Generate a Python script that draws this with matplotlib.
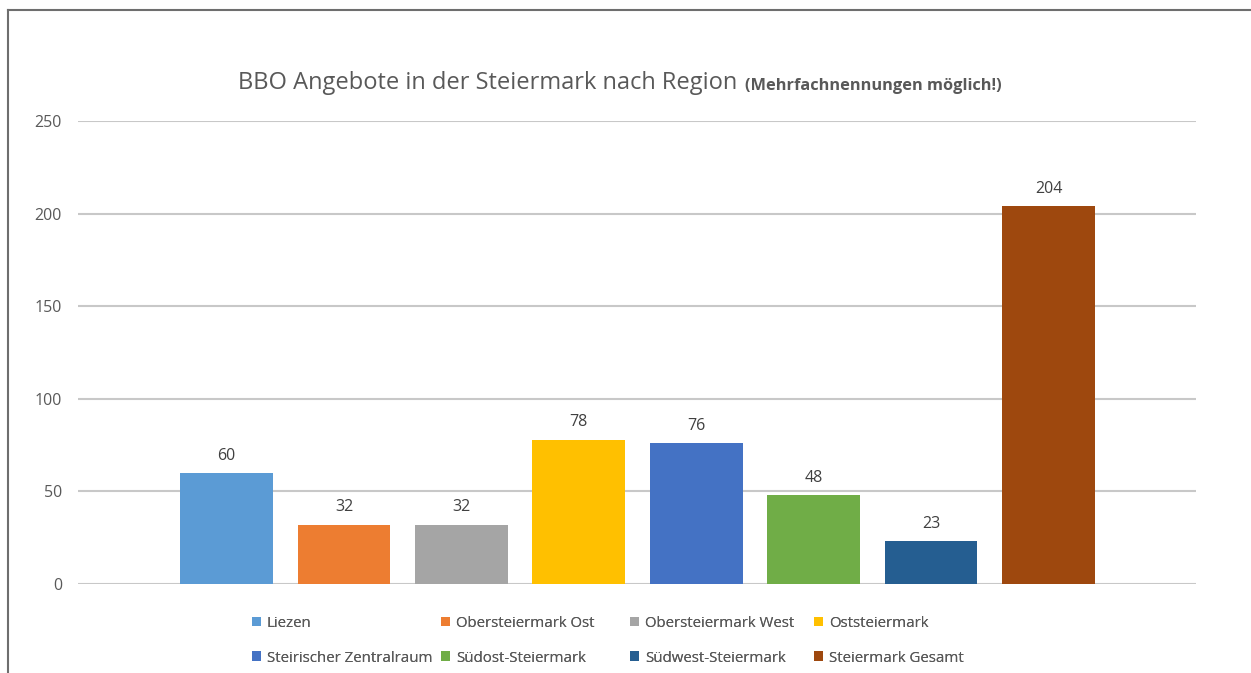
import matplotlib.pyplot as plt
from matplotlib.lines import Line2D

regions = ["Liezen", "Obersteiermark Ost", "Obersteiermark West", "Oststeiermark",
           "Steirischer Zentralraum", "Südost-Steiermark", "Südwest-Steiermark",
           "Steiermark Gesamt"]
angebote = [60, 32, 32, 78, 76, 48, 23, 204]
colors = ["#5B9BD5", "#ED7D31", "#A5A5A5", "#FFC000",
          "#4472C4", "#70AD47", "#255E91", "#9E480E"]
y_ticks = [0, 50, 100, 150, 200, 250]

plt.rcParams['font.family'] = ['Open Sans', 'DejaVu Sans']

W, H = 1251, 673
fig = plt.figure(figsize=(W / 100, H / 100), dpi=100)
ax = fig.add_axes([78 / W, 1 - 584 / H, (1196 - 78) / W, (584 - 121) / H])

bars = []
for i, (name, val, col) in enumerate(zip(regions, angebote, colors)):
    b = ax.bar(i, val, width=0.79, color=col, label=name, zorder=3)
    bars.append(b)
    ax.text(i, val + 5, str(val), ha='center', va='bottom',
            fontsize=11.5, color='#404040')

ax.set_xlim(-1.265, 8.256)
ax.set_ylim(0, 250)
ax.set_yticks(y_ticks)
ax.set_xticks([])
ax.tick_params(axis='y', length=0, pad=11.5, labelsize=11.5, labelcolor='#595959')
ax.grid(axis='y', color='#C8C8C8', linewidth=1.5, zorder=0)
for s in ax.spines.values():
    s.set_visible(False)

# legend: 2 rows x 4 columns, one small legend per column
col_x = [252, 441, 630, 814]
for c, x0 in enumerate(col_x):
    idx = [c, c + 4]
    leg = fig.legend([bars[i] for i in idx], [regions[i] for i in idx],
                     loc='upper left', bbox_to_anchor=(x0 / W, 1 - 616 / H),
                     frameon=False, fontsize=10.8, handlelength=0.6, handleheight=0.6,
                     handletextpad=0.4, labelspacing=1.3, borderpad=0,
                     borderaxespad=0, labelcolor='#595959')
    fig.add_artist(leg)

fig.text(238 / W, 1 - 83 / H, "BBO Angebote in der Steiermark nach Region",
         ha='left', va='center', fontsize=17, color='#595959')
fig.text(745 / W, 1 - 86 / H, "(Mehrfachnennungen möglich!)",
         ha='left', va='center', fontsize=11.8, fontweight='bold', color='#595959')

# outer frame (top and left edges visible)
fig.add_artist(Line2D([7.5 / W, 1], [1 - 9.5 / H, 1 - 9.5 / H], color='#6E6E6E',
                      linewidth=1.5, transform=fig.transFigure))
fig.add_artist(Line2D([7.5 / W, 7.5 / W], [0, 1 - 9.5 / H], color='#6E6E6E',
                      linewidth=1.5, transform=fig.transFigure))

fig.savefig("out.png", dpi=100)
